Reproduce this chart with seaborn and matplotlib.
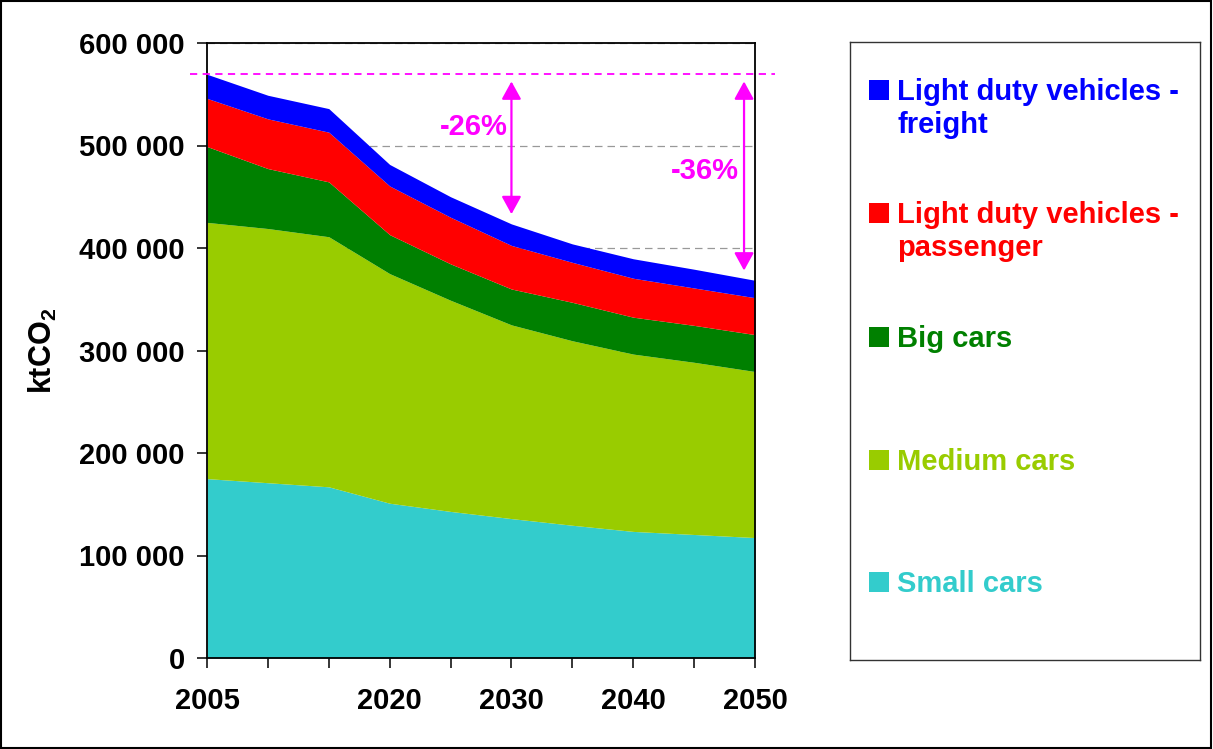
import matplotlib
matplotlib.use("Agg")
import matplotlib.pyplot as plt
from matplotlib.patches import Rectangle
from matplotlib.ticker import FuncFormatter, MultipleLocator
import numpy as np
import pandas as pd
import seaborn as sns

# ---------------------------------------------------------------------- #
# Data (ktCO2)
# ---------------------------------------------------------------------- #
years = [2005, 2010, 2015, 2020, 2025, 2030, 2035, 2040, 2045, 2050]
small_cars = [175000, 171000, 167000, 151000, 143000, 136000, 129500, 123500, 120500, 117500]
medium_cars = [250000, 248000, 244000, 224000, 206000, 189000, 180000, 173000, 168000, 162000]
big_cars = [74000, 58500, 53500, 38000, 35500, 35000, 37500, 36000, 36000, 36000]
ldv_passenger = [47000, 48500, 48500, 47500, 45500, 42500, 39000, 38000, 36500, 36000]
ldv_freight = [23500, 23000, 23000, 21000, 20000, 21000, 18000, 19000, 18300, 17000]

series_names = ["Small cars", "Medium cars", "Big cars",
                "Light duty vehicles -\npassenger", "Light duty vehicles -\nfreight"]
series_colors = ["#33CCCC", "#99CC00", "#008000", "#FF0000", "#0000FF"]
labelled_years = [2005, 2020, 2030, 2040, 2050]
arrow_years = [2030, 2050]
pct_labels = ["-26%", "-36%"]

MAGENTA = "#FF00FF"
FS = 21

df = pd.DataFrame({"year": years})
for name, vals in zip(series_names, [small_cars, medium_cars, big_cars,
                                     ldv_passenger, ldv_freight]):
    df[name] = vals
df["total"] = df[series_names].sum(axis=1)

sns.set_style("white")
plt.rcParams["font.family"] = ["Liberation Sans", "DejaVu Sans"]
plt.rcParams["font.weight"] = "bold"
plt.rcParams["text.color"] = "black"
plt.rcParams["axes.labelcolor"] = "black"
plt.rcParams["xtick.color"] = "black"
plt.rcParams["ytick.color"] = "black"
plt.rcParams["mathtext.fontset"] = "custom"
plt.rcParams["mathtext.rm"] = "Liberation Sans:bold"
plt.rcParams["mathtext.bf"] = "Liberation Sans:bold"
plt.rcParams["mathtext.it"] = "Liberation Sans:bold"

W, H = 1213, 749
fig = plt.figure(figsize=(W / 100, H / 100), dpi=100)
ax = fig.add_axes([207 / W, 1 - 658 / H, 548 / W, 615 / H])

ax.stackplot(df["year"], *[df[n] for n in series_names],
             colors=series_colors, linewidth=0)

ax.set_xlim(years[0], years[-1])
ax.set_ylim(0, 600000)
ax.yaxis.set_major_locator(MultipleLocator(100000))
ax.yaxis.set_major_formatter(FuncFormatter(lambda v, p: f"{v:,.0f}".replace(",", " ")))
ax.set_xticks(years)
ax.set_xticklabels([str(y) if y in labelled_years else "" for y in years])

ax.set_axisbelow(True)
ax.yaxis.grid(True, linestyle=(0, (6, 4)), color="#999999", lw=0.9)
ax.xaxis.grid(False)
for sp in ax.spines.values():
    sp.set_color("black")
    sp.set_linewidth(1.3)

ax.tick_params(axis="both", which="major", direction="out", color="black",
               labelcolor="black", width=1.1, labelsize=FS, bottom=True, left=True)
ax.tick_params(axis="y", length=7, pad=9)
ax.tick_params(axis="x", length=7, pad=14)
for lab in ax.get_xticklabels() + ax.get_yticklabels():
    lab.set_fontweight("bold")

ax.set_ylabel(r"ktCO$_\mathregular{2}$", fontsize=FS + 1, fontweight="bold",
              color="black")
ax.yaxis.set_label_coords(-0.27, 0.5)

# reference line at 2005 total, arrows and reductions
base = df["total"].iloc[0]
ax.plot([-0.031, 1.036], [base, base], transform=ax.get_yaxis_transform(),
        color=MAGENTA, lw=1.3, ls=(0, (4, 3)), clip_on=False, zorder=5)

text_pos = [(2026.9, 518000), (2045.9, 475000)]
x_shift = [0.0, -0.9]
for yr, lab, (tx, ty), dx in zip(arrow_years, pct_labels, text_pos, x_shift):
    tot = df.loc[df["year"] == yr, "total"].iloc[0]
    ax.annotate("", xy=(yr + dx, tot + 9500), xytext=(yr + dx, base - 7000),
                arrowprops=dict(arrowstyle="<|-|>,head_length=0.4,head_width=0.22",
                                color=MAGENTA, lw=1.6, mutation_scale=27,
                                shrinkA=0, shrinkB=0),
                zorder=6, annotation_clip=False)
    ax.text(tx, ty, lab, color=MAGENTA, fontsize=FS, fontweight="bold",
            ha="center", va="center", zorder=6)

# legend box drawn by hand
lax = fig.add_axes([850 / W, 1 - 660 / H, 350 / W, 618 / H])
lax.set_xlim(0, 1)
lax.set_ylim(0, 1)
lax.set_xticks([])
lax.set_yticks([])
for sp in lax.spines.values():
    sp.set_color("#333333")
    sp.set_linewidth(1.0)

baselines = [0.110, 0.3074, 0.5065, 0.7071, 0.9061]
line_step = 33 / 618
sq_w, sq_h = 20 / 350, 20 / 618
for name, col, yb in zip(series_names, series_colors, baselines):
    lax.add_patch(Rectangle((19 / 350, yb), sq_w, sq_h,
                            facecolor=col, edgecolor="none"))
    for i, line in enumerate(name.split("\n")):
        lax.text(47 / 350, yb - i * line_step, line, color=col, fontsize=FS,
                 fontweight="bold", ha="left", va="baseline")

# outer frame
fig.add_artist(Rectangle((0.001, 0.0015), 0.9975, 0.9965, transform=fig.transFigure,
                         fill=False, edgecolor="black", lw=1.5))

fig.savefig("out.png", dpi=100)
